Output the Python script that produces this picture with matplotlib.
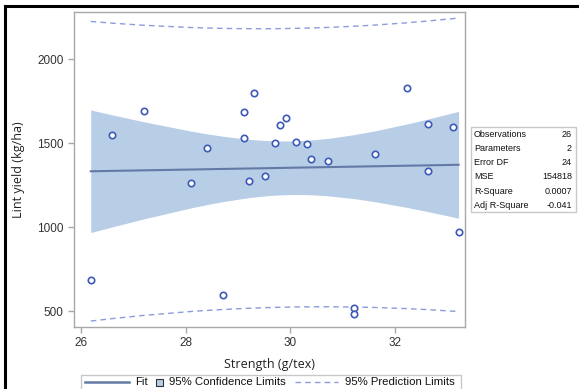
import numpy as np
import matplotlib.pyplot as plt
from matplotlib.patches import Rectangle
from matplotlib.lines import Line2D

# fibre strength (g/tex) vs lint yield (kg/ha)
strength = [26.19, 26.60, 27.20, 28.10, 28.41, 28.71, 29.11, 29.11, 29.21,
            29.30, 29.52, 29.70, 29.80, 29.91, 30.10, 30.31, 30.40, 30.72,
            31.21, 31.21, 31.61, 32.22, 32.62, 32.62, 33.11, 33.21]
lint_yield = [684, 1549, 1690, 1264, 1472, 597, 1684, 1533, 1276,
              1798, 1305, 1502, 1611, 1652, 1508, 1494, 1408, 1393,
              516, 482, 1435, 1829, 1617, 1337, 1595, 970]

stat_names = ['Observations', 'Parameters', 'Error DF', 'MSE', 'R-Square', 'Adj R-Square']
stat_values = ['26', '2', '24', '154818', '0.0007', '-0.041']
legend_labels = ['Fit', '95% Confidence Limits', '95% Prediction Limits']

T_CRIT = 2.0639  # t(0.975, 24)

x = np.array(strength)
y = np.array(lint_yield)
n = len(x)
slope, icept = np.polyfit(x, y, 1)
resid = y - (icept + slope * x)
mse = (resid ** 2).sum() / (n - 2)
sxx = ((x - x.mean()) ** 2).sum()

xs = np.unique(x)
fit = icept + slope * xs
se_mean = np.sqrt(mse * (1 / n + (xs - x.mean()) ** 2 / sxx))
se_pred = np.sqrt(mse * (1 + 1 / n + (xs - x.mean()) ** 2 / sxx))

plt.rcParams['font.family'] = ['Liberation Sans', 'DejaVu Sans']

fig = plt.figure(figsize=(5.79, 3.89), dpi=100)
ax = fig.add_axes([0.1278, 0.160, 0.676, 0.809])

band_col = '#b8cde6'
mark_col = '#3d5ab8'
fit_col = '#6479a5'
pred_col = '#8c9bdb'
dash = (0, (4, 3))

ax.fill_between(xs, fit - T_CRIT * se_mean, fit + T_CRIT * se_mean,
                color=band_col, lw=0, zorder=1)
ax.plot(xs, fit, color=fit_col, lw=1.5, zorder=2)
ax.plot(xs, fit + T_CRIT * se_pred, color=pred_col, lw=1, ls=dash, zorder=2)
ax.plot(xs, fit - T_CRIT * se_pred, color=pred_col, lw=1, ls=dash, zorder=2)
ax.plot(x, y, 'o', mfc='white', mec=mark_col, mew=1.2, ms=4.6, zorder=3)

ax.set_xlim(25.87, 33.34)
ax.set_ylim(407, 2281)
ax.set_xticks([26, 28, 30, 32])
ax.set_yticks([500, 1000, 1500, 2000])
for s in ax.spines.values():
    s.set_color('#a8a8a8')
    s.set_linewidth(1)
ax.tick_params(colors='#a8a8a8', labelcolor='#333333', labelsize=8.5, length=4, width=1)
ax.set_xlabel('Strength (g/tex)', fontsize=9, color='#222222', family=['Open Sans', 'DejaVu Sans'], labelpad=6)
ax.set_ylabel('Lint yield (kg/ha)', fontsize=9, color='#222222', family=['Open Sans', 'DejaVu Sans'], labelpad=9)

W, H = 579, 389


def fx(px):
    return px / W


def fy(py):
    return 1 - py / H


# fit statistics box
fig.patches.append(Rectangle((fx(470.5), fy(211.5)), 105 / W, 84.5 / H,
                             transform=fig.transFigure, fill=False,
                             ec='#c8c8c8', lw=1))
for i, (nm, val) in enumerate(zip(stat_names, stat_values)):
    yy = fy(134 + i * 14.3)
    fig.text(fx(474), yy, nm, fontsize=6.5, va='center', ha='left', color='#111111')
    fig.text(fx(572), yy, val, fontsize=6.5, va='center', ha='right', color='#111111')

# legend drawn by hand (square swatch as in the original)
fig.patches.append(Rectangle((fx(80.5), fy(400)), 380 / W, 25 / H,
                             transform=fig.transFigure, fill=False,
                             ec='#c8c8c8', lw=1))
ly = fy(382)
fig.add_artist(Line2D([fx(85), fx(129)], [ly, ly], color=fit_col, lw=1.8,
                      transform=fig.transFigure))
fig.text(fx(135), ly, legend_labels[0], fontsize=8.2, va='center', color='#111111')
fig.patches.append(Rectangle((fx(156), fy(385.5)), 7 / W, 7 / H,
                             transform=fig.transFigure, fc=band_col,
                             ec='#333333', lw=0.8))
fig.text(fx(169), ly, legend_labels[1], fontsize=8.2, va='center', color='#111111')
fig.add_artist(Line2D([fx(295), fx(338)], [ly, ly], color=pred_col, lw=1, ls=dash,
                      transform=fig.transFigure))
fig.text(fx(345), ly, legend_labels[2], fontsize=8.2, va='center', color='#111111')

# black frame of the screenshot
fig.add_artist(Line2D([fx(5), fx(578)], [fy(6), fy(6)], color='black', lw=2.2,
                      transform=fig.transFigure))
fig.add_artist(Line2D([fx(5), fx(5)], [fy(6), 0], color='black', lw=2.2,
                      transform=fig.transFigure))

fig.savefig('out.png', dpi=100)
